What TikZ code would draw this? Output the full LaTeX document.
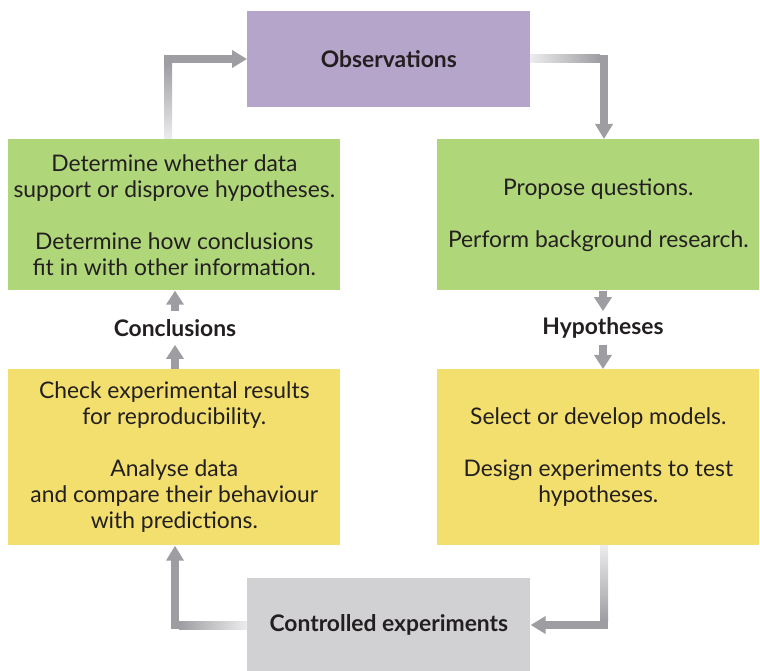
\documentclass[tikz,border=0pt]{standalone}
\usepackage{fontspec}
\setmainfont{Lato}
\usetikzlibrary{arrows.meta}
\definecolor{obsfill}{RGB}{182,165,203}
\definecolor{greenfill}{RGB}{176,214,122}
\definecolor{yellowfill}{RGB}{242,223,110}
\definecolor{expfill}{RGB}{209,209,211}
\definecolor{arrdark}{RGB}{158,158,162}
\definecolor{arrlight}{RGB}{236,236,238}
\definecolor{ink}{RGB}{35,31,32}

\begin{document}
\begin{tikzpicture}[x=0.02cm, y=-0.02cm, font=\fontsize{13}{14.8}\selectfont, text=ink,
  b/.style={rectangle, anchor=north west, inner sep=0pt, align=center},
  obsbox/.style={b, fill=obsfill, minimum width=5.66cm, minimum height=1.92cm, font=\fontsize{13}{14.8}\selectfont\bfseries},
  gbox/.style={b, fill=greenfill, minimum height=3.02cm},
  ybox/.style={b, fill=yellowfill, minimum height=3.52cm},
  expbox/.style={b, fill=expfill, minimum width=5.66cm, minimum height=1.86cm, font=\fontsize{13}{14.8}\selectfont\bfseries},
  lbl/.style={inner sep=0pt, minimum height=0.66cm, font=\fontsize{13}{14.8}\selectfont\bfseries},
  arr/.style={draw=arrdark, line width=0.16cm, line cap=rect, -{Triangle[width=0.34cm, length=0.3cm]}},
  sarr/.style={draw=arrdark, line width=0.16cm, -{Triangle[width=0.34cm, length=0.28cm]}}]
  \useasboundingbox (0,0) rectangle (760,671);

  % boxes of the cycle
  \node[obsbox] (obs) at (247,11) {Observations};
  \node[gbox, minimum width=6.64cm] (lg) at (8,139)
    {Determine whether data\\support or disprove hypotheses.\\[\baselineskip]Determine how conclusions\\fit in with other information.};
  \node[gbox, minimum width=6.44cm] (rg) at (437,139)
    {Propose questions.\\[\baselineskip]Perform background research.};
  \node[ybox, minimum width=6.64cm] (ly) at (8,369)
    {Check experimental results\\for reproducibility.\\[\baselineskip]Analyse data\\and compare their behaviour\\with predictions.};
  \node[ybox, minimum width=6.44cm] (ry) at (437,369)
    {Select or develop models.\\[\baselineskip]Design experiments to test\\hypotheses.};
  \node[expbox] (ce) at (247,578) {Controlled experiments};

  \node[lbl] (concl) at (175,328) {Conclusions};
  \node[lbl] (hyp) at (603,328) {Hypotheses};

  % bent arrows, light end fading into the dark leg
  \coordinate (tl) at (168,59);
  \shade[top color=arrdark, bottom color=arrlight] (164,139) rectangle (172,63);
  \draw[arr] (tl) -- (obs.west |- tl);

  \coordinate (tr) at (604,59);
  \shade[left color=arrlight, right color=arrdark] (530,55) rectangle (600,63);
  \draw[arr] (tr) -- (tr |- rg.north);

  \coordinate (br) at (604,625);
  \shade[top color=arrlight, bottom color=arrdark] (600,545) rectangle (608,621);
  \draw[arr] (br) -- (ce.east |- br);

  \coordinate (bl) at (175,625);
  \shade[left color=arrdark, right color=arrlight] (179,621) rectangle (247,629);
  \draw[arr] (bl) -- (bl |- ly.south);

  % short arrows through the labels
  \draw[sarr] (concl.north) -- (lg.south -| concl.north);
  \draw[sarr] (ly.north -| concl.south) -- (concl.south);
  \draw[sarr] (rg.south -| hyp.north) -- (hyp.north);
  \draw[sarr] (hyp.south) -- (ry.north -| hyp.south);
\end{tikzpicture}
\end{document}
